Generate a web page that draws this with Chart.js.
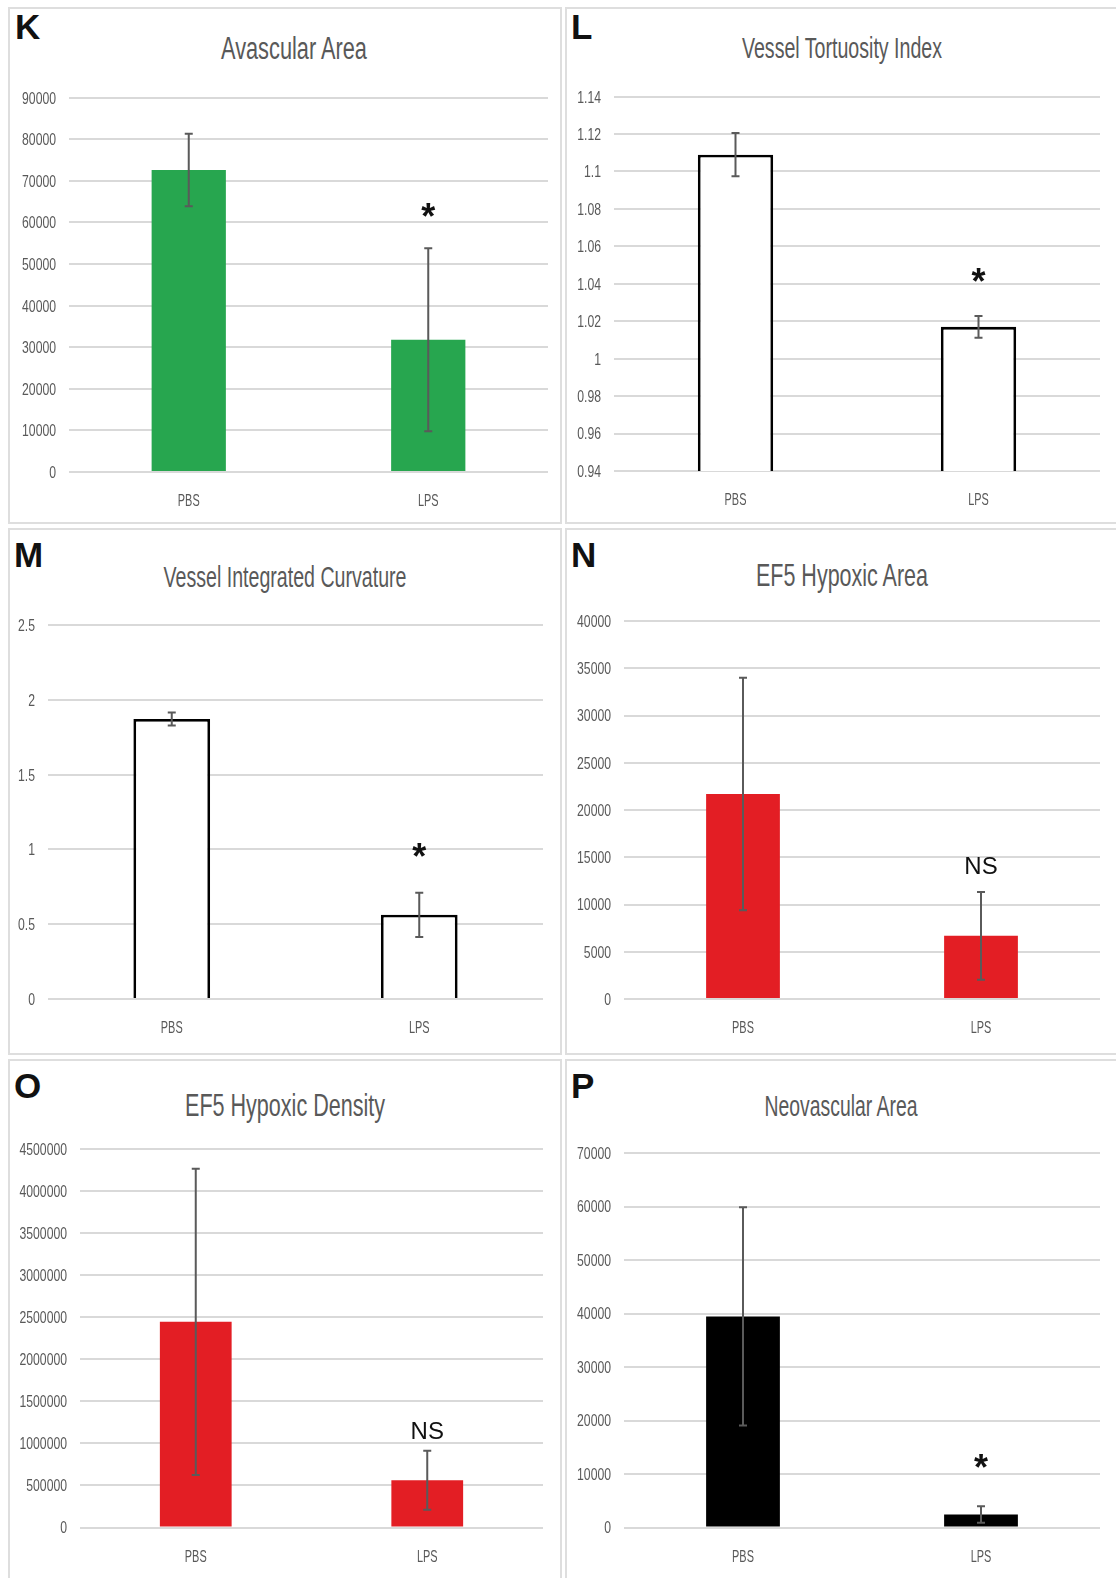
<!DOCTYPE html>
<html>
<head>
<meta charset="utf-8">
<title>Retinal vasculature panels K-P</title>
<script src="https://cdn.jsdelivr.net/npm/chart.js@4.4.0/dist/chart.umd.min.js"></script>
<style>
    body {
        margin: 0;
        width: 1116px;
        height: 1578px;
        background: #ffffff;
        position: relative;
        overflow: hidden;
        font-family: 'Liberation Sans', Arial, sans-serif;
    }
    .panel {
        position: absolute;
        box-sizing: border-box;
        border: 2px solid #dedede;
    }
    .letter {
        position: absolute;
        font-weight: bold;
        font-size: 35px;
        line-height: 1;
        color: #111111;
    }
    .title {
        position: absolute;
        white-space: nowrap;
        line-height: 1;
        color: #595959;
        font-family: 'Liberation Sans', Arial, sans-serif;
        transform-origin: center;
    }
    canvas {
        position: absolute;
    }
</style>
</head>
<body>
<script>
// -----------------------------
// Data
// -----------------------------
const categories = ['PBS', 'LPS'];

const avascularMean = [72600, 31800];
const avascularErr = [8700, 22000];
const avascularTicks = [0, 10000, 20000, 30000, 40000, 50000, 60000, 70000, 80000, 90000];
const avascularSig = ['', '*'];

const tortuosityMean = [1.109, 1.017];
const tortuosityErr = [0.0116, 0.0058];
const tortuosityTicks = [0.94, 0.96, 0.98, 1, 1.02, 1.04, 1.06, 1.08, 1.1, 1.12, 1.14];
const tortuositySig = ['', '*'];

const curvatureMean = [1.872, 0.563];
const curvatureErr = [0.043, 0.148];
const curvatureTicks = [0, 0.5, 1, 1.5, 2, 2.5];
const curvatureSig = ['', '*'];

const hypoxicAreaMean = [21700, 6680];
const hypoxicAreaErr = [12300, 4650];
const hypoxicAreaTicks = [0, 5000, 10000, 15000, 20000, 25000, 30000, 35000, 40000];
const hypoxicAreaSig = ['', 'NS'];

const hypoxicDensityMean = [2445000, 562000];
const hypoxicDensityErr = [1820000, 350000];
const hypoxicDensityTicks = [0, 500000, 1000000, 1500000, 2000000, 2500000, 3000000, 3500000, 4000000, 4500000];
const hypoxicDensitySig = ['', 'NS'];

const neovascularMean = [39450, 2430];
const neovascularErr = [20400, 1550];
const neovascularTicks = [0, 10000, 20000, 30000, 40000, 50000, 60000, 70000];
const neovascularSig = ['', '*'];

// -----------------------------
// Panel layout (page pixels)
// -----------------------------
const panels = [
    { letter: 'K', title: 'Avascular Area', mean: avascularMean, err: avascularErr, ticks: avascularTicks, sig: avascularSig,
      box: [8, 7, 554, 517], plot: [69, 97.6, 548, 472], letterAt: [15, 39],
      titleAt: [294, 59.5], titleSize: 31, titleWidth: 146,
      fill: '#27a64f', edge: '#27a64f', edgeWidth: 0, sigGap: 38 },
    { letter: 'L', title: 'Vessel Tortuosity Index', mean: tortuosityMean, err: tortuosityErr, ticks: tortuosityTicks, sig: tortuositySig,
      box: [565, 7, 560, 517], plot: [614, 96.6, 1100, 471], letterAt: [571, 39],
      titleAt: [842, 59], titleSize: 29, titleWidth: 200,
      fill: '#ffffff', edge: '#000000', edgeWidth: 2.8, sigGap: 41 },
    { letter: 'M', title: 'Vessel Integrated Curvature', mean: curvatureMean, err: curvatureErr, ticks: curvatureTicks, sig: curvatureSig,
      box: [8, 528, 554, 527], plot: [48, 625, 543, 999], letterAt: [14, 567],
      titleAt: [285, 587], titleSize: 30, titleWidth: 243,
      fill: '#ffffff', edge: '#000000', edgeWidth: 2.8, sigGap: 43 },
    { letter: 'N', title: 'EF5 Hypoxic Area', mean: hypoxicAreaMean, err: hypoxicAreaErr, ticks: hypoxicAreaTicks, sig: hypoxicAreaSig,
      box: [565, 528, 560, 527], plot: [624, 621, 1100, 999], letterAt: [571, 567],
      titleAt: [842, 586.5], titleSize: 32, titleWidth: 172,
      fill: '#e31e24', edge: '#e31e24', edgeWidth: 0, sigGap: 26 },
    { letter: 'O', title: 'EF5 Hypoxic Density', mean: hypoxicDensityMean, err: hypoxicDensityErr, ticks: hypoxicDensityTicks, sig: hypoxicDensitySig,
      box: [8, 1059, 554, 530], plot: [80, 1149, 543, 1527.5], letterAt: [14, 1098],
      titleAt: [285, 1116], titleSize: 32, titleWidth: 200,
      fill: '#e31e24', edge: '#e31e24', edgeWidth: 0, sigGap: 20 },
    { letter: 'P', title: 'Neovascular Area', mean: neovascularMean, err: neovascularErr, ticks: neovascularTicks, sig: neovascularSig,
      box: [565, 1059, 560, 530], plot: [624, 1153, 1100, 1527.5], letterAt: [571, 1098],
      titleAt: [841, 1116], titleSize: 30, titleWidth: 153,
      fill: '#000000', edge: '#000000', edgeWidth: 0, sigGap: 45 },
];

const FONT = "'Liberation Sans', Arial, sans-serif";
const TICK_GREY = '#595959';

// -----------------------------
// Condensed tick labels (drawn from the chart's own scales)
// -----------------------------
const narrowTicks = {
    id: 'narrowTicks',
    afterDraw(chart) {
        const { ctx, chartArea } = chart;
        const xScale = chart.scales.x;
        const yScale = chart.scales.y;

        ctx.save();
        ctx.fillStyle = TICK_GREY;
        ctx.textBaseline = 'alphabetic';

        // y axis: right aligned, centred on each grid line
        ctx.font = `16.5px ${FONT}`;
        ctx.textAlign = 'right';
        yScale.ticks.forEach(tick => {
            const y = yScale.getPixelForValue(tick.value);
            ctx.save();
            ctx.translate(chartArea.left - 13, y + 16.5 * 0.358);
            ctx.scale(0.74, 1);
            ctx.fillText(String(tick.value), 0, 0);
            ctx.restore();
        });

        // x axis: category names under each bar
        ctx.font = `16.5px ${FONT}`;
        ctx.textAlign = 'center';
        chart.data.labels.forEach((label, i) => {
            const x = xScale.getPixelForValue(i);
            ctx.save();
            ctx.translate(x, chartArea.bottom + 28.5 + 16.5 * 0.358);
            ctx.scale(0.66, 1);
            ctx.fillText(label, 0, 0);
            ctx.restore();
        });
        ctx.restore();
    }
};

// -----------------------------
// Error bars + significance marks
// -----------------------------
const errorBars = {
    id: 'errorBars',
    afterDatasetsDraw(chart, args, opts) {
        const { ctx } = chart;
        const yScale = chart.scales.y;
        const meta = chart.getDatasetMeta(0);
        const data = chart.data.datasets[0].data;

        ctx.save();
        meta.data.forEach((bar, i) => {
            const top = yScale.getPixelForValue(data[i] + opts.err[i]);
            const bottom = yScale.getPixelForValue(data[i] - opts.err[i]);
            const x = bar.x;

            ctx.strokeStyle = '#5a5a5a';
            ctx.lineWidth = 2;
            ctx.beginPath();
            ctx.moveTo(x, top);
            ctx.lineTo(x, bottom);
            ctx.moveTo(x - 4, top);
            ctx.lineTo(x + 4, top);
            ctx.moveTo(x - 4, bottom);
            ctx.lineTo(x + 4, bottom);
            ctx.stroke();

            const mark = opts.sig[i];
            if (!mark) return;
            ctx.fillStyle = '#111111';
            ctx.textAlign = 'center';
            ctx.textBaseline = 'alphabetic';
            ctx.font = mark === '*' ? `bold 36px ${FONT}` : `24px ${FONT}`;
            const m = ctx.measureText(mark);
            const centre = top - opts.gap;
            const baseline = centre + (m.actualBoundingBoxAscent - m.actualBoundingBoxDescent) / 2;
            ctx.fillText(mark, x, baseline);
        });
        ctx.restore();
    }
};

// -----------------------------
// Build one panel
// -----------------------------
function buildPanel(p) {
    const [bx, by, bw, bh] = p.box;
    const [pl, pt, pr, pb] = p.plot;

    const frame = document.createElement('div');
    frame.className = 'panel';
    Object.assign(frame.style, { left: bx + 'px', top: by + 'px', width: bw + 'px', height: bh + 'px' });
    document.body.appendChild(frame);

    const letter = document.createElement('div');
    letter.className = 'letter';
    letter.textContent = p.letter;
    letter.style.left = p.letterAt[0] + 'px';
    letter.style.top = (p.letterAt[1] - 0.8465 * 35) + 'px';
    document.body.appendChild(letter);

    const title = document.createElement('div');
    title.className = 'title';
    title.textContent = p.title;
    title.style.fontSize = p.titleSize + 'px';
    title.style.left = p.titleAt[0] + 'px';
    title.style.top = (p.titleAt[1] - 0.8465 * p.titleSize) + 'px';
    document.body.appendChild(title);
    const scaleX = p.titleWidth / title.offsetWidth;
    title.style.transform = `translateX(-50%) scaleX(${scaleX})`;

    const cx = bx + 2, cy = by + 2, cw = bw - 4, ch = bh - 4;
    const canvas = document.createElement('canvas');
    canvas.width = cw;
    canvas.height = ch;
    Object.assign(canvas.style, { left: cx + 'px', top: cy + 'px', width: cw + 'px', height: ch + 'px' });
    document.body.appendChild(canvas);

    const ticks = p.ticks;
    new Chart(canvas.getContext('2d'), {
        type: 'bar',
        data: {
            labels: categories,
            datasets: [{
                data: p.mean,
                backgroundColor: p.fill,
                borderColor: p.edge,
                borderWidth: p.edgeWidth,
                borderSkipped: 'start',
                barPercentage: 0.31,
                categoryPercentage: 1,
            }]
        },
        options: {
            responsive: false,
            animation: false,
            layout: { padding: { left: 0, top: pt - cy, right: cx + cw - pr, bottom: 0 } },
            plugins: {
                legend: { display: false },
                tooltip: { enabled: false },
                errorBars: { err: p.err, sig: p.sig, gap: p.sigGap },
            },
            scales: {
                x: {
                    grid: { display: false },
                    border: { display: false },
                    ticks: { display: false },
                    afterFit: scale => { scale.height = cy + ch - pb; },
                },
                y: {
                    min: ticks[0],
                    max: ticks[ticks.length - 1],
                    grid: { color: '#d9d9d9', lineWidth: 2, drawTicks: false },
                    border: { display: false },
                    ticks: { display: false },
                    afterBuildTicks: scale => { scale.ticks = ticks.map(v => ({ value: v })); },
                    afterFit: scale => { scale.width = pl - cx; },
                }
            }
        },
        plugins: [errorBars, narrowTicks]
    });
}

// -----------------------------
// Start
// -----------------------------
panels.forEach(buildPanel);
</script>
</body>
</html>
